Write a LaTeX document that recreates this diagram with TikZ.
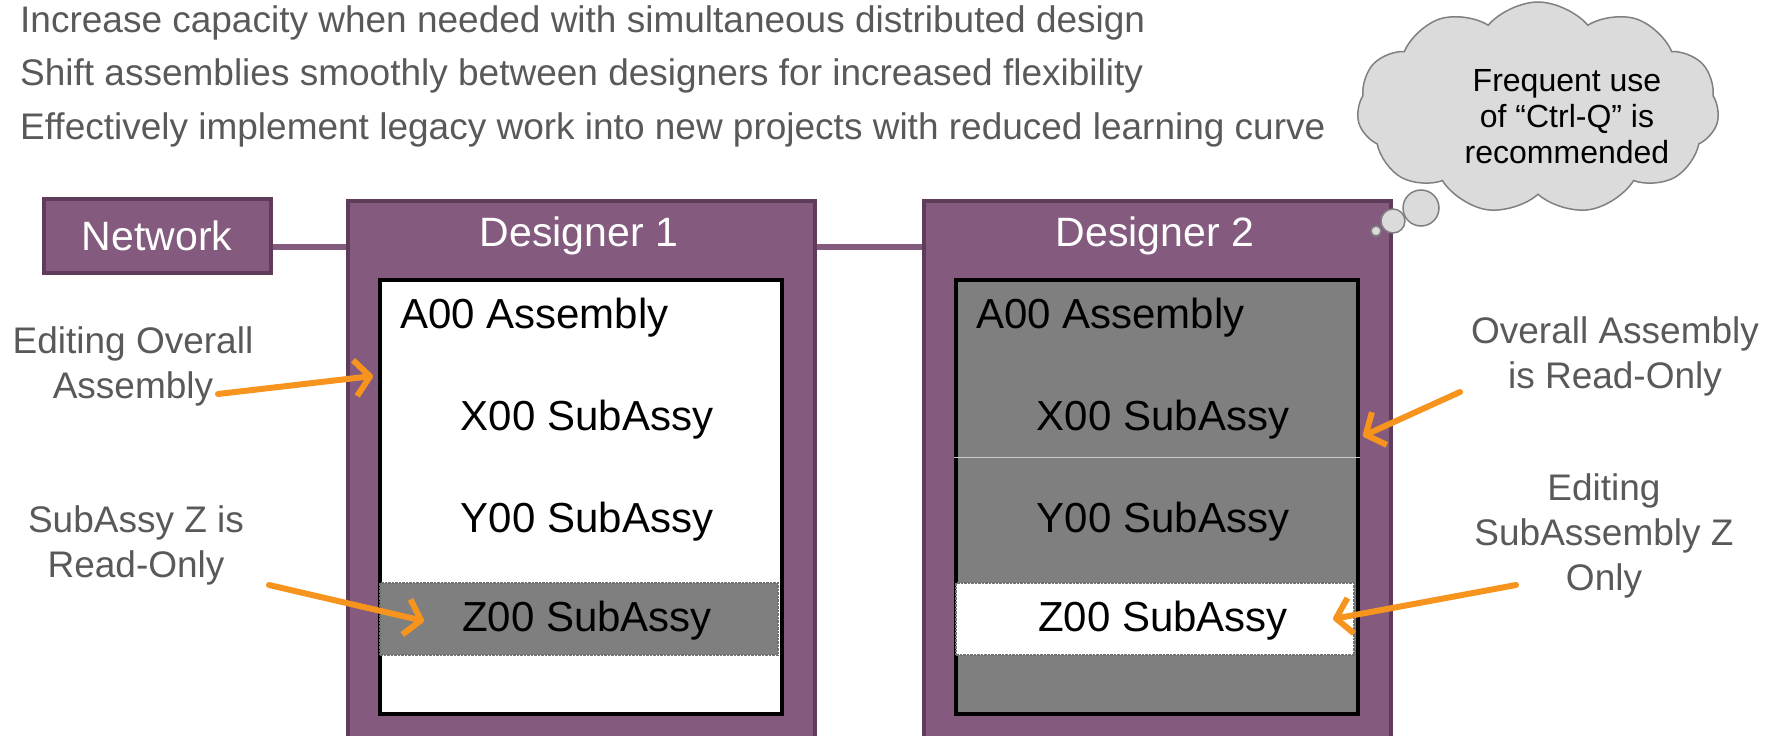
\documentclass[tikz,border=0pt]{standalone}
\usepackage{fontspec}
\setmainfont{Liberation Sans}
\usetikzlibrary{positioning,shapes.symbols,arrows.meta}

\definecolor{plum}{HTML}{845A7E}
\definecolor{plum edge}{HTML}{5E3C5A}
\definecolor{note gray}{HTML}{595959}
\definecolor{hint orange}{HTML}{F7941D}
\definecolor{locked gray}{HTML}{7F7F7F}
\colorlet{cloud area}{gray!28}
\colorlet{cloud edge}{black!50}

\def\noteFont{\fontsize{37}{45}\selectfont}
\def\titleFont{\fontsize{41}{46}\selectfont}
\def\rowFont{\fontsize{42}{48}\selectfont}
\def\cloudFont{\fontsize{32}{36}\selectfont}

\tikzset{
  designer/.style={fill=plum, draw=plum edge, line width=4pt, anchor=north west,
    minimum width=467pt, minimum height=545pt},
  workspace/.style={draw=black, line width=4pt, anchor=north west,
    minimum width=402pt, minimum height=434pt},
  band/.style={draw=black!55, densely dotted, line width=2.5pt,
    minimum width=398pt, minimum height=72pt},
  puff/.style={circle, fill=cloud area, draw=cloud edge, line width=1.5pt, inner sep=0pt}
  }
\tikzstyle{netbox}=[fill=plum, draw=plum edge, line width=4pt, text=white, font=\titleFont,
  minimum width=227pt, minimum height=74pt]
\tikzstyle{title}=[text=white, font=\titleFont, inner sep=0pt]
\tikzstyle{row}=[font=\rowFont, inner sep=0pt]
\tikzstyle{bullet}=[text=note gray, font=\noteFont, anchor=base west, inner sep=0pt]
\tikzstyle{remark}=[text=note gray, font=\noteFont, align=center, inner sep=0pt]
\tikzstyle{link}=[draw=plum, line width=6pt]
\tikzstyle{hint}=[draw=hint orange, line width=6pt, line cap=round,
  -{Straight Barb[length=15pt,width=36pt,line join=round]}]

\begin{document}
\begin{tikzpicture}[x=1pt,y=-1pt]
  \useasboundingbox (0,0) rectangle (1781,736);

  % points at the top
  \foreach \i/\txt in {1/Increase capacity when needed with simultaneous distributed design,
                       2/Shift assemblies smoothly between designers for increased flexibility,
                       3/Effectively implement legacy work into new projects with reduced learning curve} {
    \node[bullet] (line\i) at (20,{32+53.5*(\i-1)}) {\txt};
  }

  \node[netbox] (net) at (157,236) {Network};

  % the two designer seats
  \foreach \n/\dx in {1/0, 2/576} {
    \node[designer] (d\n) at (346+\dx,199) {};
    \node[title] (t\n) at (579+\dx,236) {Designer \n};
  }
  \node[workspace, fill=white] (w1) at (378,278) {};
  \node[workspace, fill=locked gray] (w2) at (954,278) {};
  \draw[white!60!gray, line width=0.8pt] (w2.west |- 0,457) -- (w2.east |- 0,457);
  \node[band, fill=locked gray] (zb1) at (579,619) {};
  \node[band, fill=white] (zb2) at (1155,619) {};

  \foreach \n/\dx in {1/0, 2/576} {
    \node[row, anchor=west] (a\n) at (400+\dx,318) {A00 Assembly};
    \node[row] (x\n) at (587+\dx,420) {X00 SubAssy};
    \node[row] (y\n) at (587+\dx,522) {Y00 SubAssy};
    \node[row] (z\n) at (587+\dx,621) {Z00 SubAssy};
  }

  \path[link] ([yshift=-11pt]net.east) -- ([yshift=-11pt]net.east -| d1.west);
  \path[link] ([yshift=-11pt]net.east -| d1.east) -- ([yshift=-11pt]net.east -| d2.west);

  % thought cloud
  \node[cloud, cloud puffs=11, cloud puff arc=100, aspect=1.7, fill=cloud area,
    draw=cloud edge, line width=1.5pt, minimum width=362pt, minimum height=212pt]
    (bubble) at (1538,108) {};
  \node[font=\cloudFont, align=center, inner sep=0pt] (tip) at (1567,117)
    {Frequent use\\of “Ctrl-Q” is\\recommended};
  \node[puff, minimum size=36pt] (p1) at (1421,208) {};
  \node[puff, minimum size=24pt] (p2) at (1393,221) {};
  \node[puff, minimum size=10pt] (p3) at (1376,231) {};

  % side notes
  \node[remark] (n1) at (133,366) {Editing Overall\\Assembly};
  \node[remark] (n2) at (136,545) {SubAssy Z is\\Read-Only};
  \node[remark] (n3) at (1615,356) {Overall Assembly\\is Read-Only};
  \node[remark] (n4) at (1604,536) {Editing\\SubAssembly Z\\Only};

  \coordinate (s1) at (218,394);  \coordinate (e1) at (373,376);
  \coordinate (s2) at (269,585);  \coordinate (e2) at (424,621);
  \coordinate (s3) at (1460,392); \coordinate (e3) at (1363,436);
  \coordinate (s4) at (1516,585); \coordinate (e4) at (1333,619);
  \foreach \k in {1,...,4} {
    \path[hint] (s\k) -- (e\k);
  }
\end{tikzpicture}
\end{document}
